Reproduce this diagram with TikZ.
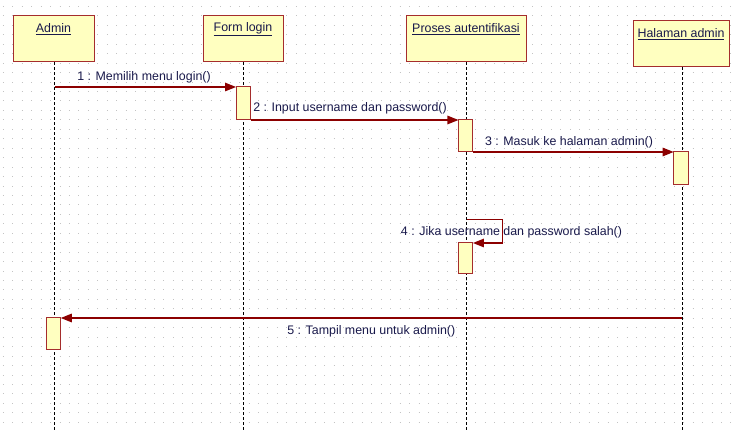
\documentclass[tikz,border=0pt]{standalone}
\usepackage{fontspec}
\setmainfont{Liberation Sans}
\usetikzlibrary{arrows.meta}
\definecolor{boxfill}{RGB}{255,255,192}
\definecolor{boxline}{RGB}{165,45,45}
\definecolor{msgc}{RGB}{140,0,0}
\definecolor{txtc}{RGB}{25,25,75}
\definecolor{dotc}{RGB}{195,195,195}
\begin{document}
\begin{tikzpicture}[x=1pt,y=-1pt,
  objbox/.style={draw=boxline, fill=boxfill, line width=1pt, minimum width=#1, minimum height=46pt, inner sep=0pt},
  actbox/.style={draw=boxline, fill=boxfill, line width=1pt, minimum width=14.5pt, minimum height=#1, inner sep=0pt, outer sep=0pt, anchor=north},
  title/.style={text=txtc, font=\fontsize{12.4}{14}\selectfont, inner sep=0pt},
  lbl/.style={text=txtc, font=\fontsize{12.4}{14}\selectfont, inner sep=0pt},
  lifeline/.style={draw=black, line width=1.1pt, dash pattern=on 3pt off 2pt},
  msg/.style={draw=msgc, line width=1.3pt, -{Triangle[length=11pt,width=8.5pt]}},
  dots/.style={draw=dotc, line width=1pt, dash pattern=on 1pt off 8.45pt}
]
\useasboundingbox (0,0) rectangle (734,430);
\fill[white] (0,0) rectangle (734,430);
% dotted grid
\foreach \k in {0,...,45} {
  \draw[dots] (2.8,{6.5+9.45*\k}) -- (734,{6.5+9.45*\k});
}
% lifeline ends
\coordinate (adminE) at (54.5,430);
\coordinate (formE) at (243.7,430);
\coordinate (prosesE) at (466.7,430);
\coordinate (halE) at (682.3,430);
% objects
\node[objbox=81pt] (admin) at (53.5,39) {};
\node[objbox=80pt] (form) at (243,39) {};
\node[objbox=120pt] (proses) at (466,39) {};
\node[objbox=96pt] (hal) at (681,44) {};
% lifelines
\draw[lifeline] (adminE |- admin.south) -- (adminE);
\draw[lifeline] (formE |- form.south) -- (formE);
\draw[lifeline] (prosesE |- proses.south) -- (prosesE);
\draw[lifeline] (halE |- hal.south) -- (halE);
% titles
\node[title] (adminT) at (53.5,29) {\underline{Admin}};
\node[title] (formT) at (243,29) {\underline{Form login}};
\node[title] (prosesT) at (466,29) {\underline{Proses autentifikasi}};
\node[title] (halT) at (681,34) {\underline{Halaman admin}};
% activations
\node[actbox=33pt] (act1) at (243.3,87) {};
\node[actbox=32pt] (act2) at (465.7,120) {};
\node[actbox=33pt] (act3) at (680.9,152) {};
\node[actbox=31pt] (act4) at (465.7,243) {};
\node[actbox=32pt] (act5) at (53.5,318) {};
% messages
\draw[msg] (adminE |- act1.north west) -- (act1.north west);
\draw[msg] (act1.south east) -- (act2.north west);
\draw[msg] (act2.south east) -- (act3.north west);
\coordinate (m4a) at (466.7,219.5);
\draw[msg] (m4a) -- ++(35.6,0) -- ++(0,23.5) -- (act4.north east);
\draw[msg] (halE |- act5.north east) -- (act5.north east);
% labels
\node[lbl] (l1) at (144,77) {1 : Memilih menu login()};
\node[lbl] (l2) at (350,108.5) {2 : Input username dan password()};
\node[lbl] (l3) at (569,142.5) {3 : Masuk ke halaman admin()};
\node[lbl] (l4) at (511.5,232.5) {4 : Jika username dan password salah()};
\node[lbl] (l5) at (371.3,331.5) {5 : Tampil menu untuk admin()};
\end{tikzpicture}
\end{document}
